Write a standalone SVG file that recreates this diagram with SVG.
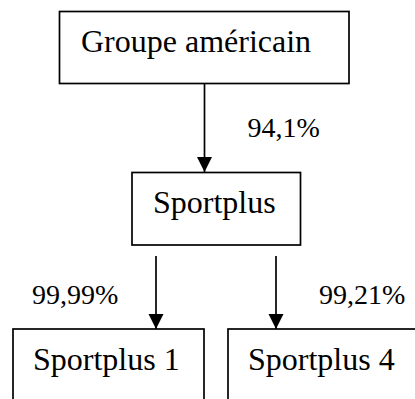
<svg xmlns="http://www.w3.org/2000/svg" width="415" height="399" viewBox="0 0 415 399">
<style>
.box{fill:#fff;stroke:#000;stroke-width:1.7}
.lbl{font-family:"Liberation Serif","Times New Roman",serif;font-size:32px;fill:#000}
.pct{font-family:"Liberation Serif","Times New Roman",serif;font-size:28px;fill:#000}
.conn{stroke:#000;stroke-width:1.7;fill:none;marker-end:url(#arr)}
</style>
<defs>
<marker id="arr" markerUnits="userSpaceOnUse" markerWidth="16" markerHeight="16" viewBox="0 0 16 16" refX="15" refY="8" orient="auto">
<path d="M0,0.5 L15,8 L0,15.5 Z" fill="#000"/>
</marker>
</defs>
<rect width="415" height="399" fill="#fff"/>
<g id="connectors">
<line class="conn" x1="204.5" y1="83.5" x2="204.5" y2="172"/>
<line class="conn" x1="156" y1="256" x2="156" y2="329"/>
<line class="conn" x1="276" y1="256" x2="276" y2="329"/>
<text class="pct" x="247.5" y="137">94,1%</text>
<text class="pct" x="32" y="304">99,99%</text>
<text class="pct" x="319" y="304">99,21%</text>
</g>
<g id="groupe">
<rect class="box" x="59.5" y="11.5" width="289.5" height="72"/>
<text class="lbl" x="81" y="52">Groupe américain</text>
</g>
<g id="sportplus">
<rect class="box" x="132" y="172.5" width="168.5" height="72.5"/>
<text class="lbl" x="153" y="213">Sportplus</text>
</g>
<g id="sportplus1">
<rect class="box" x="13" y="329" width="191" height="90"/>
<text class="lbl" x="33" y="370">Sportplus 1</text>
</g>
<g id="sportplus4">
<rect class="box" x="228" y="329" width="200" height="90"/>
<text class="lbl" x="248" y="370">Sportplus 4</text>
</g>
</svg>
